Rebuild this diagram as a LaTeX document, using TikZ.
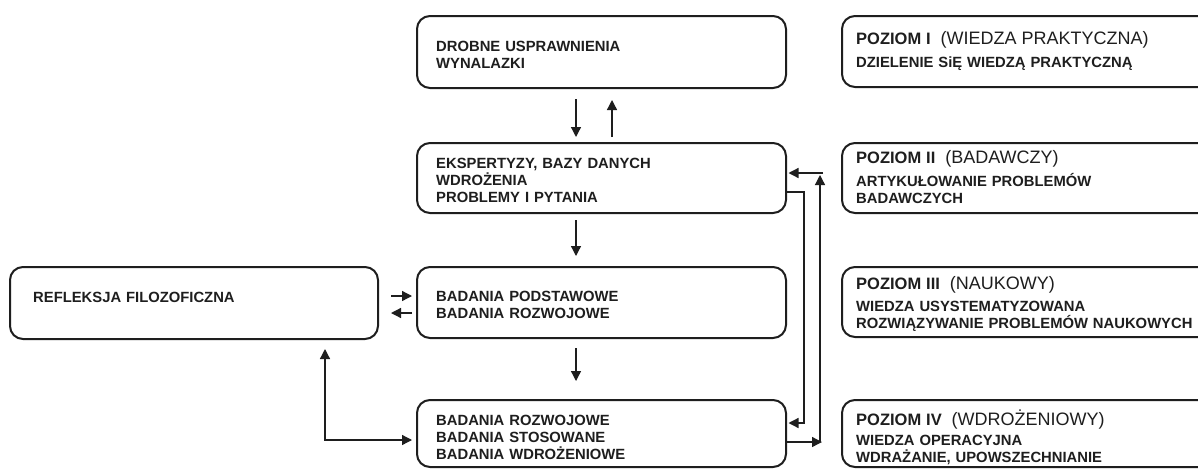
\documentclass[tikz,border=0pt]{standalone}
\usepackage{fontspec}
\setmainfont{Liberation Sans}
\usetikzlibrary{arrows.meta,calc}
\definecolor{ink}{HTML}{1E1E1E}
\begin{document}
\begin{tikzpicture}[x=1pt,y=-1pt,
  box/.style={draw=ink, line width=2pt, rounded corners=13pt, inner sep=0pt},
  lbl/.style={anchor=base west, inner sep=0pt, text width=380pt, align=left,
              font=\fontsize{14.8}{17}\selectfont\bfseries, text=ink},
  arr/.style={line width=1.3pt, draw=ink, -{Triangle[length=10pt,width=10pt]}},
  dbl/.style={line width=1.3pt, draw=ink, {Triangle[length=10pt,width=10pt]}-{Triangle[length=10pt,width=10pt]}}]
\clip (0,0) rectangle (1198,469);
\fill[white] (0,0) rectangle (1198,469);

% central column
\node[box, minimum width=369pt, minimum height=72pt] (A) at (601.5,52) {};
\node[box, minimum width=369pt, minimum height=70pt] (B) at (601.5,178) {};
\node[box, minimum width=369pt, minimum height=71pt] (C) at (601.5,302.5) {};
\node[box, minimum width=369pt, minimum height=67pt] (D) at (601.5,433.5) {};
% left box
\node[box, minimum width=368pt, minimum height=72pt] (R) at (194,303) {};
% level boxes on the right
\node[box, minimum width=373pt, minimum height=71pt] (P1) at (1028.5,51.5) {};
\node[box, minimum width=373pt, minimum height=70pt] (P2) at (1028.5,178) {};
\node[box, minimum width=373pt, minimum height=70pt] (P3) at (1028.5,302) {};
\node[box, minimum width=373pt, minimum height=67pt] (P4) at (1028.5,433.5) {};

% box texts
\node[lbl] (tA) at (436,51) {DROBNE USPRAWNIENIA\\WYNALAZKI};
\node[lbl] (tB) at (436,168) {EKSPERTYZY, BAZY DANYCH\\WDROŻENIA\\PROBLEMY I PYTANIA};
\node[lbl] (tC) at (436,301) {BADANIA PODSTAWOWE\\BADANIA ROZWOJOWE};
\node[lbl] (tD) at (436,425) {BADANIA ROZWOJOWE\\BADANIA STOSOWANE\\BADANIA WDROŻENIOWE};
\node[lbl] (tR) at (33,302) {REFLEKSJA FILOZOFICZNA};

\node[lbl] (h1) at (856,44) {{\fontsize{16.5}{22}\selectfont POZIOM I}\fontsize{18}{22}\selectfont\mdseries\ \ (WIEDZA PRAKTYCZNA)};
\node[lbl] (s1) at (856,67) {DZIELENIE SiĘ WIEDZĄ PRAKTYCZNĄ};
\node[lbl] (h2) at (856,163) {{\fontsize{16.5}{22}\selectfont POZIOM II}\fontsize{18}{22}\selectfont\mdseries\ \ (BADAWCZY)};
\node[lbl] (s2) at (856,186) {ARTYKUŁOWANIE PROBLEMÓW\\BADAWCZYCH};
\node[lbl] (h3) at (856,289) {{\fontsize{16.5}{22}\selectfont POZIOM III}\fontsize{18}{22}\selectfont\mdseries\ \ (NAUKOWY)};
\node[lbl] (s3) at (856,311) {WIEDZA USYSTEMATYZOWANA\\ROZWIĄZYWANIE PROBLEMÓW NAUKOWYCH};
\node[lbl] (h4) at (856,425) {{\fontsize{16.5}{22}\selectfont POZIOM IV}\fontsize{18}{22}\selectfont\mdseries\ \ (WDROŻENIOWY)};
\node[lbl] (s4) at (856,445) {WIEDZA OPERACYJNA\\WDRAŻANIE, UPOWSZECHNIANIE};

% vertical flow in the central column
\draw[arr] ($(A.south)+(-25.5,10)$) -- ($(B.north)+(-25.5,-5)$);
\draw[arr] ($(B.north)+(10.5,-5)$) -- ($(A.south)+(10.5,11)$);
\draw[arr] ($(B.south)+(-25.5,6)$) -- ($(C.north)+(-25.5,-10)$);
\draw[arr] ($(C.south)+(-25.5,9)$) -- ($(D.north)+(-25.5,-18)$);

% exchange with the philosophical reflection
\draw[arr] ($(R.east)+(12,-7)$) -- ($(C.west)+(-4,-6.5)$);
\draw[arr] ($(C.west)+(-4,10.5)$) -- ($(R.east)+(12,10)$);
\draw[dbl] ($(R.south)+(131,9)$) |- ($(D.west)+(-4,6.5)$);

% feedback loops on the right
\coordinate (k1) at (804,192);
\coordinate (k2) at (804,423);
\draw[arr] ($(B.east)+(0,14)$) -- (k1) -- (k2) -- ($(D.east)+(1.5,-10.5)$);
\coordinate (k3) at (820,442);
\coordinate (k4) at (820,175);
\coordinate (k5) at (823,173);
\draw[arr] ($(D.east)+(0,8.5)$) -- ($(k3)+(2,0)$);
\draw[arr] (k3) -- (k4);
\draw[arr] (k5) -- ($(B.east)+(1.5,-5)$);
\end{tikzpicture}
\end{document}
